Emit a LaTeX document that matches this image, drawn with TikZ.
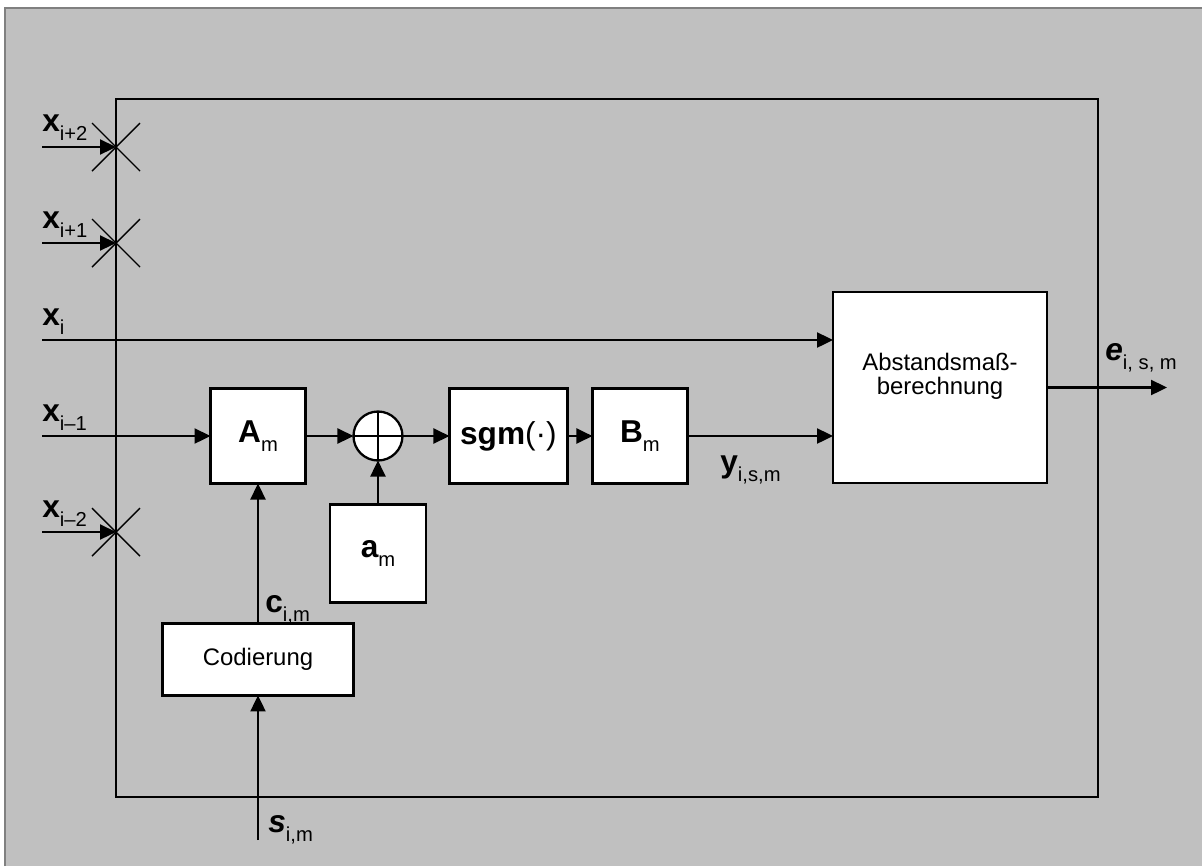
\documentclass[tikz,border=0pt]{standalone}
\usepackage{fontspec}
\setmainfont{Liberation Sans}
\usetikzlibrary{arrows.meta,positioning}
\definecolor{panelgray}{RGB}{192,192,192}
\definecolor{framegray}{RGB}{128,128,128}
\newcommand{\symsub}[3]{{\fontsize{18}{18}\selectfont#1#2}\raisebox{-5.5pt}{\fontsize{11.5}{11.5}\selectfont#3}}
\newcommand{\txtfont}{\fontsize{13.6}{13.5}\selectfont}
\tikzset{
  block/.style={rectangle, draw=black, line width=1.3pt, fill=white, outer sep=0pt,
                inner sep=0pt, align=center, font=\txtfont},
  sumnode/.style={circle, draw=black, line width=1.3pt, fill=white, outer sep=0pt,
                  inner sep=0pt, minimum size=0.98cm},
  arrow/.style={-{Triangle[length=0.32cm,width=0.3cm]}, line width=1.3pt},
  plain/.style={line width=1.3pt},
  thinline/.style={line width=0.8pt},
  sym/.style={inner sep=0pt, anchor=base west},
}

\begin{document}
\begin{tikzpicture}[x=0.02cm, y=-0.02cm]
\useasboundingbox (0,0) rectangle (1202,866);
% panel and frame
\fill[panelgray] (5,8) rectangle (1202,866);
\draw[framegray, line width=1.3pt] (5,866) -- (5,8) -- (1202,8);
\draw[plain] (116,99) rectangle (1098,797);

% blocks
\node[block, minimum width=1.9cm, minimum height=1.9cm] (am) at (258,436) {\symsub{\bfseries}{A}{m}};
\node[sumnode, right=0.96cm of am] (sum) {};
\draw[thinline] (sum.north) -- (sum.south) (sum.west) -- (sum.east);
\node[block, right=0.94cm of sum, minimum width=2.36cm, minimum height=1.9cm] (sgm)
  {{\fontsize{18}{18}\selectfont\bfseries sgm}{\fontsize{18}{18}\selectfont(·)}};
\node[block, right=0.5cm of sgm, minimum width=1.9cm, minimum height=1.9cm] (bm) {\symsub{\bfseries}{B}{m}};
\node[block, below=0.88cm of sum, minimum width=1.92cm, minimum height=1.96cm] (av) {\symsub{\bfseries}{a}{m}};
\node[block, below=2.8cm of am, minimum width=3.82cm, minimum height=1.44cm] (cod) {Codierung};
\node[block, minimum width=4.28cm, minimum height=3.82cm,
      label={[font=\txtfont, align=center, yshift=0.22cm]center:Abstandsmaß-\\berechnung}] (dist) at (940,387.5) {};

% inputs and outputs
\coordinate (in2) at (42,147);  \coordinate (cr2) at (116,147);
\coordinate (in1) at (42,243);  \coordinate (cr1) at (116,243);
\coordinate (in0) at (42,340);
\coordinate (inm1) at (42,436);
\coordinate (inm2) at (42,532); \coordinate (crm2) at (116,532);
\coordinate (sin) at (258,840);
\coordinate (eout) at (1167,387.5);

\node[sym] (lx2) at (42,131) {\symsub{\bfseries}{x}{i+2}};
\node[sym] (lx1) at (42,228) {\symsub{\bfseries}{x}{i+1}};
\node[sym] (lx0) at (42,325) {\symsub{\bfseries}{x}{i}};
\node[sym] (lxm1) at (42,421) {\symsub{\bfseries}{x}{i–1}};
\node[sym] (lxm2) at (42,517) {\symsub{\bfseries}{x}{i–2}};
\node[sym] (ly) at (720,472) {\symsub{\bfseries}{y}{i,s,m}};
\node[sym] (le) at (1105,360) {\symsub{\bfseries\itshape}{e}{i, s, m}};
\node[sym] (lc) at (265,612) {\symsub{\bfseries}{c}{i,m}};
\node[sym] (ls) at (268,832) {\symsub{\bfseries\itshape}{s}{i,m}};

% connectors
\draw[arrow] (in2) -- (cr2);
\draw[arrow] (in1) -- (cr1);
\draw[arrow] (inm2) -- (crm2);
\foreach \c in {cr2,cr1,crm2}
  \draw[thinline] (\c) ++(-24,-24) -- ++(48,48) (\c) ++(-24,24) -- ++(48,-48);
\draw[arrow] (in0) -- (dist.west |- in0);
\draw[arrow] (inm1) -- (am.west);
\draw[arrow] (am) -- (sum);
\draw[arrow] (sum) -- (sgm);
\draw[arrow] (sgm) -- (bm);
\draw[arrow] (bm.east) -- (dist.west |- bm.east);
\draw[arrow] (av) -- (sum);
\draw[arrow] (cod) -- (am);
\draw[arrow] (sin) -- (cod);
\draw[arrow] (dist.east) -- (eout);
\end{tikzpicture}
\end{document}
